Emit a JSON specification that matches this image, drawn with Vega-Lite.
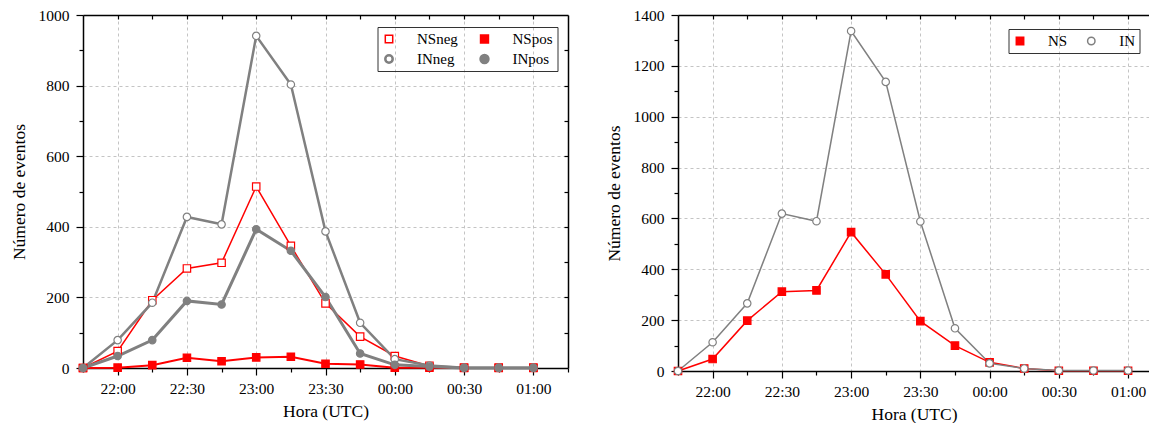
{
  "$schema": "https://vega.github.io/schema/vega-lite/v6.json",
  "background": "white",
  "padding": {"left": 10, "top": 8, "right": 0, "bottom": 0},
  "resolve": {"scale": {"color": "independent", "fill": "independent", "stroke": "independent", "shape": "independent", "strokeWidth": "independent"}},
  "config": {
    "font": "Liberation Serif",
    "view": {"stroke": null},
    "concat": {"spacing": 36},
    "axis": {
      "labelFont": "Liberation Serif", "titleFont": "Liberation Serif",
      "labelFontSize": 15.5, "titleFontSize": 17.5, "titleFontWeight": "normal",
      "labelColor": "black", "titleColor": "black",
      "domainColor": "black", "domainWidth": 1.5,
      "tickColor": "black", "tickWidth": 1.2,
      "gridColor": "#c4c4c4", "gridDash": [3, 3], "gridWidth": 1
    },
    "legend": {
      "labelFont": "Liberation Serif", "labelFontSize": 15, "labelColor": "black",
      "strokeColor": "#333333", "padding": 4, "direction": "horizontal",
      "symbolSize": 55, "symbolOpacity": 1, "clipHeight": 16, "rowPadding": 4,
      "labelOffset": 20.5, "columns": 2
    }
  },
  "datasets": {
    "left": [
      {"hora": "2020-01-01T21:45:00Z", "serie": "NSneg", "n": 0},
      {"hora": "2020-01-01T22:00:00Z", "serie": "NSneg", "n": 48},
      {"hora": "2020-01-01T22:15:00Z", "serie": "NSneg", "n": 192},
      {"hora": "2020-01-01T22:30:00Z", "serie": "NSneg", "n": 282},
      {"hora": "2020-01-01T22:45:00Z", "serie": "NSneg", "n": 298},
      {"hora": "2020-01-01T23:00:00Z", "serie": "NSneg", "n": 514},
      {"hora": "2020-01-01T23:15:00Z", "serie": "NSneg", "n": 346},
      {"hora": "2020-01-01T23:30:00Z", "serie": "NSneg", "n": 183},
      {"hora": "2020-01-01T23:45:00Z", "serie": "NSneg", "n": 89},
      {"hora": "2020-01-02T00:00:00Z", "serie": "NSneg", "n": 34},
      {"hora": "2020-01-02T00:15:00Z", "serie": "NSneg", "n": 6},
      {"hora": "2020-01-02T00:30:00Z", "serie": "NSneg", "n": 1},
      {"hora": "2020-01-02T00:45:00Z", "serie": "NSneg", "n": 1},
      {"hora": "2020-01-02T01:00:00Z", "serie": "NSneg", "n": 1},
      {"hora": "2020-01-01T21:45:00Z", "serie": "NSpos", "n": 0},
      {"hora": "2020-01-01T22:00:00Z", "serie": "NSpos", "n": 1},
      {"hora": "2020-01-01T22:15:00Z", "serie": "NSpos", "n": 8},
      {"hora": "2020-01-01T22:30:00Z", "serie": "NSpos", "n": 29},
      {"hora": "2020-01-01T22:45:00Z", "serie": "NSpos", "n": 19},
      {"hora": "2020-01-01T23:00:00Z", "serie": "NSpos", "n": 30},
      {"hora": "2020-01-01T23:15:00Z", "serie": "NSpos", "n": 32},
      {"hora": "2020-01-01T23:30:00Z", "serie": "NSpos", "n": 12},
      {"hora": "2020-01-01T23:45:00Z", "serie": "NSpos", "n": 10},
      {"hora": "2020-01-02T00:00:00Z", "serie": "NSpos", "n": 1},
      {"hora": "2020-01-02T00:15:00Z", "serie": "NSpos", "n": 1},
      {"hora": "2020-01-02T00:30:00Z", "serie": "NSpos", "n": 0},
      {"hora": "2020-01-02T00:45:00Z", "serie": "NSpos", "n": 0},
      {"hora": "2020-01-02T01:00:00Z", "serie": "NSpos", "n": 0},
      {"hora": "2020-01-01T21:45:00Z", "serie": "INneg", "n": 0},
      {"hora": "2020-01-01T22:00:00Z", "serie": "INneg", "n": 79},
      {"hora": "2020-01-01T22:15:00Z", "serie": "INneg", "n": 185},
      {"hora": "2020-01-01T22:30:00Z", "serie": "INneg", "n": 428},
      {"hora": "2020-01-01T22:45:00Z", "serie": "INneg", "n": 407},
      {"hora": "2020-01-01T23:00:00Z", "serie": "INneg", "n": 941},
      {"hora": "2020-01-01T23:15:00Z", "serie": "INneg", "n": 803},
      {"hora": "2020-01-01T23:30:00Z", "serie": "INneg", "n": 387},
      {"hora": "2020-01-01T23:45:00Z", "serie": "INneg", "n": 128},
      {"hora": "2020-01-02T00:00:00Z", "serie": "INneg", "n": 25},
      {"hora": "2020-01-02T00:15:00Z", "serie": "INneg", "n": 7},
      {"hora": "2020-01-02T00:30:00Z", "serie": "INneg", "n": 1},
      {"hora": "2020-01-02T00:45:00Z", "serie": "INneg", "n": 1},
      {"hora": "2020-01-02T01:00:00Z", "serie": "INneg", "n": 1},
      {"hora": "2020-01-01T21:45:00Z", "serie": "INpos", "n": 0},
      {"hora": "2020-01-01T22:00:00Z", "serie": "INpos", "n": 34},
      {"hora": "2020-01-01T22:15:00Z", "serie": "INpos", "n": 79},
      {"hora": "2020-01-01T22:30:00Z", "serie": "INpos", "n": 190},
      {"hora": "2020-01-01T22:45:00Z", "serie": "INpos", "n": 180},
      {"hora": "2020-01-01T23:00:00Z", "serie": "INpos", "n": 393},
      {"hora": "2020-01-01T23:15:00Z", "serie": "INpos", "n": 332},
      {"hora": "2020-01-01T23:30:00Z", "serie": "INpos", "n": 201},
      {"hora": "2020-01-01T23:45:00Z", "serie": "INpos", "n": 41},
      {"hora": "2020-01-02T00:00:00Z", "serie": "INpos", "n": 9},
      {"hora": "2020-01-02T00:15:00Z", "serie": "INpos", "n": 4},
      {"hora": "2020-01-02T00:30:00Z", "serie": "INpos", "n": 0},
      {"hora": "2020-01-02T00:45:00Z", "serie": "INpos", "n": 0},
      {"hora": "2020-01-02T01:00:00Z", "serie": "INpos", "n": 0}
    ],
    "right": [
      {"hora": "2020-01-01T21:45:00Z", "serie": "NS", "n": 0},
      {"hora": "2020-01-01T22:00:00Z", "serie": "NS", "n": 47},
      {"hora": "2020-01-01T22:15:00Z", "serie": "NS", "n": 198},
      {"hora": "2020-01-01T22:30:00Z", "serie": "NS", "n": 312},
      {"hora": "2020-01-01T22:45:00Z", "serie": "NS", "n": 317},
      {"hora": "2020-01-01T23:00:00Z", "serie": "NS", "n": 546},
      {"hora": "2020-01-01T23:15:00Z", "serie": "NS", "n": 380},
      {"hora": "2020-01-01T23:30:00Z", "serie": "NS", "n": 196},
      {"hora": "2020-01-01T23:45:00Z", "serie": "NS", "n": 100},
      {"hora": "2020-01-02T00:00:00Z", "serie": "NS", "n": 34},
      {"hora": "2020-01-02T00:15:00Z", "serie": "NS", "n": 10},
      {"hora": "2020-01-02T00:30:00Z", "serie": "NS", "n": 1},
      {"hora": "2020-01-02T00:45:00Z", "serie": "NS", "n": 1},
      {"hora": "2020-01-02T01:00:00Z", "serie": "NS", "n": 1},
      {"hora": "2020-01-01T21:45:00Z", "serie": "IN", "n": 0},
      {"hora": "2020-01-01T22:00:00Z", "serie": "IN", "n": 113},
      {"hora": "2020-01-01T22:15:00Z", "serie": "IN", "n": 266},
      {"hora": "2020-01-01T22:30:00Z", "serie": "IN", "n": 619},
      {"hora": "2020-01-01T22:45:00Z", "serie": "IN", "n": 589},
      {"hora": "2020-01-01T23:00:00Z", "serie": "IN", "n": 1337},
      {"hora": "2020-01-01T23:15:00Z", "serie": "IN", "n": 1137},
      {"hora": "2020-01-01T23:30:00Z", "serie": "IN", "n": 588},
      {"hora": "2020-01-01T23:45:00Z", "serie": "IN", "n": 168},
      {"hora": "2020-01-02T00:00:00Z", "serie": "IN", "n": 30},
      {"hora": "2020-01-02T00:15:00Z", "serie": "IN", "n": 10},
      {"hora": "2020-01-02T00:30:00Z", "serie": "IN", "n": 2},
      {"hora": "2020-01-02T00:45:00Z", "serie": "IN", "n": 2},
      {"hora": "2020-01-02T01:00:00Z", "serie": "IN", "n": 2}
    ]
  },
  "hconcat": [
    {
      "width": 485,
      "height": 353,
      "data": {"name": "left"},
      "resolve": {"axis": {"x": "independent", "y": "independent"}},
      "layer": [
        {
          "mark": {"type": "point", "opacity": 0},
          "encoding": {
            "x": {
              "field": "hora", "type": "temporal",
              "scale": {"type": "utc", "domain": [
                {"year": 2020, "month": 1, "date": 1, "hours": 21, "minutes": 45, "utc": true},
                {"year": 2020, "month": 1, "date": 2, "hours": 1, "minutes": 15, "utc": true}]},
              "axis": {
                "title": null, "orient": "bottom", "labels": false, "grid": false, "domain": false, "tickSize": 4,
                "values": [
                  {"year": 2020, "month": 1, "date": 1, "hours": 21, "minutes": 45, "utc": true},
                  {"year": 2020, "month": 1, "date": 1, "hours": 22, "minutes": 15, "utc": true},
                  {"year": 2020, "month": 1, "date": 1, "hours": 22, "minutes": 45, "utc": true},
                  {"year": 2020, "month": 1, "date": 1, "hours": 23, "minutes": 15, "utc": true},
                  {"year": 2020, "month": 1, "date": 1, "hours": 23, "minutes": 45, "utc": true},
                  {"year": 2020, "month": 1, "date": 2, "hours": 0, "minutes": 15, "utc": true},
                  {"year": 2020, "month": 1, "date": 2, "hours": 0, "minutes": 45, "utc": true},
                  {"year": 2020, "month": 1, "date": 2, "hours": 1, "minutes": 15, "utc": true}]
              }
            },
            "y": {
              "field": "n", "type": "quantitative",
              "scale": {"domain": [0, 1000], "nice": false},
              "axis": {
                "title": null, "orient": "left", "labels": false, "grid": false, "domain": false, "tickSize": 4,
                "values": [100, 300, 500, 700, 900]
              }
            }
          }
        },
        {
          "mark": {"type": "line"},
          "encoding": {
            "x": {
              "field": "hora", "type": "temporal",
              "axis": {
                "title": "Hora (UTC)", "orient": "bottom", "tickSize": 7, "grid": true,
                "labelExpr": "utcFormat(datum.value, '%H:%M')",
                "values": [
                  {"year": 2020, "month": 1, "date": 1, "hours": 22, "minutes": 0, "utc": true},
                  {"year": 2020, "month": 1, "date": 1, "hours": 22, "minutes": 30, "utc": true},
                  {"year": 2020, "month": 1, "date": 1, "hours": 23, "minutes": 0, "utc": true},
                  {"year": 2020, "month": 1, "date": 1, "hours": 23, "minutes": 30, "utc": true},
                  {"year": 2020, "month": 1, "date": 2, "hours": 0, "minutes": 0, "utc": true},
                  {"year": 2020, "month": 1, "date": 2, "hours": 0, "minutes": 30, "utc": true},
                  {"year": 2020, "month": 1, "date": 2, "hours": 1, "minutes": 0, "utc": true}],
                "labelPadding": 6, "titlePadding": 6
              }
            },
            "y": {
              "field": "n", "type": "quantitative",
              "axis": {
                "title": "Número de eventos", "orient": "left", "tickSize": 7, "grid": true,
                "values": [0, 200, 400, 600, 800, 1000],
                "labelExpr": "format(datum.value, 'd')",
                "labelPadding": 7, "titlePadding": 10
              }
            },
            "stroke": {"field": "serie", "type": "nominal",
              "scale": {"domain": ["NSneg", "NSpos", "INneg", "INpos"], "range": ["#ff0000", "#ff0000", "#808080", "#808080"]},
              "legend": {"title": null, "orient": "none", "legendX": 294.5, "legendY": 12, "direction": "horizontal", "columns": 2, "columnPadding": 18.5}},
            "strokeWidth": {"field": "serie", "type": "nominal",
              "scale": {"domain": ["NSneg", "NSpos", "INneg", "INpos"], "range": [1.5, 3, 1.5, 3]},
              "legend": {"title": null, "orient": "none", "legendX": 294.5, "legendY": 12, "direction": "horizontal", "columns": 2, "columnPadding": 18.5}}
          }
        },
        {
          "mark": {"type": "point", "opacity": 1, "size": 55, "strokeWidth": 1.2},
          "encoding": {
            "x": {
              "field": "hora", "type": "temporal",
              "axis": {
                "orient": "top", "title": null, "labels": false, "grid": false, "tickSize": -4,
                "values": [
                  {"year": 2020, "month": 1, "date": 1, "hours": 22, "minutes": 0, "utc": true},
                  {"year": 2020, "month": 1, "date": 1, "hours": 22, "minutes": 15, "utc": true},
                  {"year": 2020, "month": 1, "date": 1, "hours": 22, "minutes": 30, "utc": true},
                  {"year": 2020, "month": 1, "date": 1, "hours": 22, "minutes": 45, "utc": true},
                  {"year": 2020, "month": 1, "date": 1, "hours": 23, "minutes": 0, "utc": true},
                  {"year": 2020, "month": 1, "date": 1, "hours": 23, "minutes": 15, "utc": true},
                  {"year": 2020, "month": 1, "date": 1, "hours": 23, "minutes": 30, "utc": true},
                  {"year": 2020, "month": 1, "date": 1, "hours": 23, "minutes": 45, "utc": true},
                  {"year": 2020, "month": 1, "date": 2, "hours": 0, "minutes": 0, "utc": true},
                  {"year": 2020, "month": 1, "date": 2, "hours": 0, "minutes": 15, "utc": true},
                  {"year": 2020, "month": 1, "date": 2, "hours": 0, "minutes": 30, "utc": true},
                  {"year": 2020, "month": 1, "date": 2, "hours": 0, "minutes": 45, "utc": true},
                  {"year": 2020, "month": 1, "date": 2, "hours": 1, "minutes": 0, "utc": true}]
              }
            },
            "y": {
              "field": "n", "type": "quantitative",
              "axis": {
                "orient": "right", "title": null, "labels": false, "grid": false, "tickSize": -4,
                "values": [100, 200, 300, 400, 500, 600, 700, 800, 900]
              }
            },
            "shape": {"field": "serie", "type": "nominal",
              "scale": {"domain": ["NSneg", "NSpos", "INneg", "INpos"], "range": ["square", "square", "circle", "circle"]},
              "legend": {"title": null, "orient": "none", "legendX": 294.5, "legendY": 12, "direction": "horizontal", "columns": 2, "columnPadding": 18.5}},
            "fill": {"field": "serie", "type": "nominal",
              "scale": {"domain": ["NSneg", "NSpos", "INneg", "INpos"], "range": ["#ffffff", "#ff0000", "#ffffff", "#808080"]},
              "legend": {"title": null, "orient": "none", "legendX": 294.5, "legendY": 12, "direction": "horizontal", "columns": 2, "columnPadding": 18.5}},
            "stroke": {"field": "serie", "type": "nominal",
              "legend": {"title": null, "orient": "none", "legendX": 294.5, "legendY": 12, "direction": "horizontal", "columns": 2, "columnPadding": 18.5}}
          }
        }
      ]
    },
    {
      "width": 472,
      "height": 356,
      "data": {"name": "right"},
      "resolve": {"axis": {"x": "independent", "y": "independent"}},
      "layer": [
        {
          "mark": {"type": "point", "opacity": 0},
          "encoding": {
            "x": {
              "field": "hora", "type": "temporal",
              "scale": {"type": "utc", "domain": [
                {"year": 2020, "month": 1, "date": 1, "hours": 21, "minutes": 45, "utc": true},
                {"year": 2020, "month": 1, "date": 2, "hours": 1, "minutes": 9, "seconds": 30, "utc": true}]},
              "axis": {
                "title": null, "orient": "bottom", "labels": false, "grid": false, "domain": false, "tickSize": 4,
                "values": [
                  {"year": 2020, "month": 1, "date": 1, "hours": 21, "minutes": 45, "utc": true},
                  {"year": 2020, "month": 1, "date": 1, "hours": 22, "minutes": 15, "utc": true},
                  {"year": 2020, "month": 1, "date": 1, "hours": 22, "minutes": 45, "utc": true},
                  {"year": 2020, "month": 1, "date": 1, "hours": 23, "minutes": 15, "utc": true},
                  {"year": 2020, "month": 1, "date": 1, "hours": 23, "minutes": 45, "utc": true},
                  {"year": 2020, "month": 1, "date": 2, "hours": 0, "minutes": 15, "utc": true},
                  {"year": 2020, "month": 1, "date": 2, "hours": 0, "minutes": 45, "utc": true}]
              }
            },
            "y": {
              "field": "n", "type": "quantitative",
              "scale": {"domain": [0, 1400], "nice": false},
              "axis": {
                "title": null, "orient": "left", "labels": false, "grid": false, "domain": false, "tickSize": 4,
                "values": [100, 300, 500, 700, 900, 1100, 1300]
              }
            }
          }
        },
        {
          "mark": {"type": "line", "strokeWidth": 1.5},
          "encoding": {
            "x": {
              "field": "hora", "type": "temporal",
              "axis": {
                "title": "Hora (UTC)", "orient": "bottom", "tickSize": 7, "grid": true,
                "labelExpr": "utcFormat(datum.value, '%H:%M')",
                "values": [
                  {"year": 2020, "month": 1, "date": 1, "hours": 22, "minutes": 0, "utc": true},
                  {"year": 2020, "month": 1, "date": 1, "hours": 22, "minutes": 30, "utc": true},
                  {"year": 2020, "month": 1, "date": 1, "hours": 23, "minutes": 0, "utc": true},
                  {"year": 2020, "month": 1, "date": 1, "hours": 23, "minutes": 30, "utc": true},
                  {"year": 2020, "month": 1, "date": 2, "hours": 0, "minutes": 0, "utc": true},
                  {"year": 2020, "month": 1, "date": 2, "hours": 0, "minutes": 30, "utc": true},
                  {"year": 2020, "month": 1, "date": 2, "hours": 1, "minutes": 0, "utc": true}],
                "labelPadding": 6, "titlePadding": 6
              }
            },
            "y": {
              "field": "n", "type": "quantitative",
              "axis": {
                "title": "Número de eventos", "orient": "left", "tickSize": 7, "grid": true,
                "values": [0, 200, 400, 600, 800, 1000, 1200, 1400],
                "labelExpr": "format(datum.value, 'd')",
                "labelPadding": 7, "titlePadding": 10
              }
            },
            "stroke": {"field": "serie", "type": "nominal",
              "scale": {"domain": ["NS", "IN"], "range": ["#ff0000", "#808080"]},
              "legend": {"title": null, "orient": "none", "legendX": 330.5, "legendY": 14, "direction": "horizontal", "columns": 2, "columnPadding": 16.3}}
          }
        },
        {
          "mark": {"type": "point", "opacity": 1, "size": 55, "strokeWidth": 1.2},
          "encoding": {
            "x": {
              "field": "hora", "type": "temporal",
              "axis": {
                "orient": "top", "title": null, "labels": false, "grid": false, "tickSize": -4,
                "values": [
                  {"year": 2020, "month": 1, "date": 1, "hours": 22, "minutes": 0, "utc": true},
                  {"year": 2020, "month": 1, "date": 1, "hours": 22, "minutes": 15, "utc": true},
                  {"year": 2020, "month": 1, "date": 1, "hours": 22, "minutes": 30, "utc": true},
                  {"year": 2020, "month": 1, "date": 1, "hours": 22, "minutes": 45, "utc": true},
                  {"year": 2020, "month": 1, "date": 1, "hours": 23, "minutes": 0, "utc": true},
                  {"year": 2020, "month": 1, "date": 1, "hours": 23, "minutes": 15, "utc": true},
                  {"year": 2020, "month": 1, "date": 1, "hours": 23, "minutes": 30, "utc": true},
                  {"year": 2020, "month": 1, "date": 1, "hours": 23, "minutes": 45, "utc": true},
                  {"year": 2020, "month": 1, "date": 2, "hours": 0, "minutes": 0, "utc": true},
                  {"year": 2020, "month": 1, "date": 2, "hours": 0, "minutes": 15, "utc": true},
                  {"year": 2020, "month": 1, "date": 2, "hours": 0, "minutes": 30, "utc": true},
                  {"year": 2020, "month": 1, "date": 2, "hours": 0, "minutes": 45, "utc": true},
                  {"year": 2020, "month": 1, "date": 2, "hours": 1, "minutes": 0, "utc": true}]
              }
            },
            "y": {"field": "n", "type": "quantitative",
              "axis": {"orient": "right", "title": null, "labels": false, "ticks": false, "domain": false, "grid": false}},
            "shape": {"field": "serie", "type": "nominal",
              "scale": {"domain": ["NS", "IN"], "range": ["square", "circle"]},
              "legend": {"title": null, "orient": "none", "legendX": 330.5, "legendY": 14, "direction": "horizontal", "columns": 2, "columnPadding": 16.3}},
            "fill": {"field": "serie", "type": "nominal",
              "scale": {"domain": ["NS", "IN"], "range": ["#ff0000", "#ffffff"]},
              "legend": {"title": null, "orient": "none", "legendX": 330.5, "legendY": 14, "direction": "horizontal", "columns": 2, "columnPadding": 16.3}},
            "stroke": {"field": "serie", "type": "nominal",
              "legend": {"title": null, "orient": "none", "legendX": 330.5, "legendY": 14, "direction": "horizontal", "columns": 2, "columnPadding": 16.3}}
          }
        }
      ]
    }
  ]
}
